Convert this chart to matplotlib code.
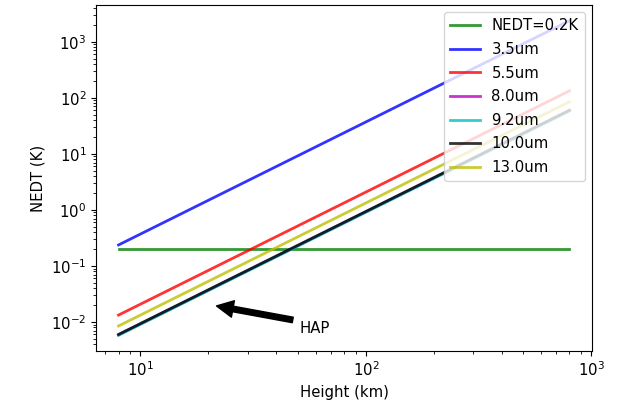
import numpy as np
import matplotlib
matplotlib.use("Agg")
import matplotlib.pyplot as plt

# heights (km) and NEDT values at the end points (NEDT ~ h^2)
heights = [8, 800]
nedt_ref = [0.2, 0.2]
labels = ["3.5um", "5.5um", "8.0um", "9.2um", "10.0um", "13.0um"]
nedt_low = [0.237, 0.0133, 0.0059, 0.0058, 0.006, 0.0085]
nedt_high = [2370, 133, 59, 58, 60, 85]
colors = ["b", "r", "m", "c", "k", "y"]

plt.rcParams["font.size"] = 10.7

fig = plt.figure(figsize=(6.19, 4.09), dpi=100)
ax = fig.add_axes([96 / 619, 58 / 409, 496 / 619, 346 / 409])

ax.plot(heights, nedt_ref, color="g", alpha=0.8, lw=2, label="NEDT=0.2K")
for lab, lo, hi, c in zip(labels, nedt_low, nedt_high, colors):
    ax.plot(heights, [lo, hi], color=c, alpha=0.8, lw=2, label=lab)

ax.set_xscale("log")
ax.set_yscale("log")
ax.set_xlabel("Height (km)")
ax.set_ylabel("NEDT (K)")

ax.annotate("HAP", xy=(20.8, 0.02), xytext=(51, 0.0063),
            arrowprops=dict(facecolor="black", shrink=0.05))

ax.legend(loc="upper right", labelspacing=0.58)

fig.savefig("out.png", dpi=100)
